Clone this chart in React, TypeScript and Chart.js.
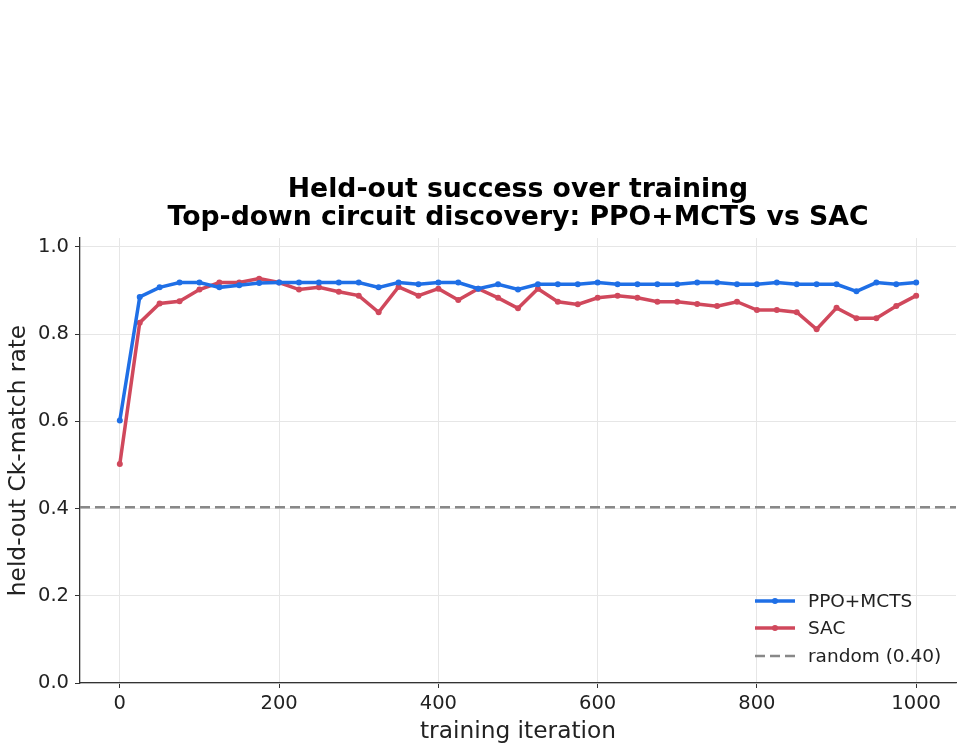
import React, { useEffect, useRef } from 'react';
import { Chart, registerables } from 'chart.js';

Chart.register(...registerables);

const iterations = [
  0, 25, 50, 75, 100, 125, 150, 175, 200, 225, 250, 275, 300, 325, 350, 375, 400, 425, 450, 475,
  500, 525, 550, 575, 600, 625, 650, 675, 700, 725, 750, 775, 800, 825, 850, 875, 900, 925, 950, 975, 1000,
];
const ppoMcts = [
  0.602, 0.885, 0.907, 0.918, 0.918, 0.907, 0.912, 0.917, 0.918, 0.918, 0.918, 0.918, 0.918, 0.907, 0.918, 0.914,
  0.918, 0.918, 0.904, 0.914, 0.902, 0.914, 0.914, 0.914, 0.918, 0.914, 0.914, 0.914, 0.914, 0.918, 0.918, 0.914,
  0.914, 0.918, 0.914, 0.914, 0.914, 0.898, 0.918, 0.914, 0.918,
];
const sac = [
  0.502, 0.826, 0.87, 0.875, 0.902, 0.918, 0.918, 0.927, 0.918, 0.902, 0.907, 0.897, 0.888, 0.85, 0.908, 0.888,
  0.904, 0.878, 0.904, 0.883, 0.859, 0.904, 0.874, 0.868, 0.883, 0.888, 0.883, 0.874, 0.874, 0.869, 0.864, 0.874,
  0.855, 0.855, 0.85, 0.811, 0.86, 0.836, 0.836, 0.864, 0.888,
];
const randomBaseline = 0.403;
const xRange = [-50, 1050];
const xTicks = [0, 200, 400, 600, 800, 1000];
const yTicks = [0, 0.2, 0.4, 0.6, 0.8, 1.0];
const titleLines = ['Held-out success over training', 'Top-down circuit discovery: PPO+MCTS vs SAC'];
const seriesLabels = ['PPO+MCTS', 'SAC', 'random (0.40)'];

const FONT = "'DejaVu Sans', 'Liberation Sans', sans-serif";
const BLUE = '#1f6fe6';
const RED = '#d0485c';
const GRAY = '#888888';

const legendPlugin = {
  id: 'insideLegend',
  afterDraw(chart: any) {
    const { ctx, chartArea } = chart;
    const x0 = chartArea.right - 201;
    const lineLen = 40;
    const rows = [chartArea.bottom - 82, chartArea.bottom - 55, chartArea.bottom - 27];
    ctx.save();
    chart.data.datasets.forEach((ds: any, i: number) => {
      const y = rows[i];
      ctx.beginPath();
      ctx.strokeStyle = ds.borderColor;
      ctx.lineWidth = ds.borderWidth;
      ctx.setLineDash(ds.borderDash || []);
      ctx.moveTo(x0, y);
      ctx.lineTo(x0 + lineLen, y);
      ctx.stroke();
      ctx.setLineDash([]);
      if (ds.pointRadius > 0) {
        ctx.beginPath();
        ctx.fillStyle = ds.borderColor;
        ctx.arc(x0 + lineLen / 2, y, ds.pointRadius, 0, Math.PI * 2);
        ctx.fill();
      }
      ctx.fillStyle = '#222';
      ctx.font = `18.5px ${FONT}`;
      ctx.textBaseline = 'middle';
      ctx.textAlign = 'left';
      ctx.fillText(ds.label, x0 + 53, y + 1);
    });
    ctx.restore();
  },
};

export default function App() {
  const ref = useRef<HTMLCanvasElement>(null);
  useEffect(() => {
    const ppoData = iterations.map((x, i) => ({ x, y: ppoMcts[i] }));
    const sacData = iterations.map((x, i) => ({ x, y: sac[i] }));
    const randData = xRange.map((x) => ({ x, y: randomBaseline }));
    const chart = new Chart(ref.current as HTMLCanvasElement, {
      type: 'line',
      data: {
        datasets: [
          {
            label: seriesLabels[0],
            data: ppoData,
            borderColor: BLUE,
            backgroundColor: BLUE,
            pointBackgroundColor: BLUE,
            borderWidth: 3.5,
            pointRadius: 3,
            pointBorderWidth: 0,
            tension: 0,
          },
          {
            label: seriesLabels[1],
            data: sacData,
            borderColor: RED,
            backgroundColor: RED,
            pointBackgroundColor: RED,
            borderWidth: 3.5,
            pointRadius: 3,
            pointBorderWidth: 0,
            tension: 0,
          },
          {
            label: seriesLabels[2],
            data: randData,
            borderColor: GRAY,
            backgroundColor: GRAY,
            borderWidth: 2.5,
            borderDash: [10, 5],
            pointRadius: 0,
            tension: 0,
          },
        ],
      },
      options: {
        responsive: false,
        animation: false,
        layout: { padding: { left: 0, right: 8, top: 0, bottom: 0 } },
        plugins: {
          legend: { display: false },
          tooltip: { enabled: false },
          title: {
            display: true,
            fullSize: false,
            text: titleLines,
            color: '#000',
            font: { family: FONT, size: 26.7, weight: 'bold', lineHeight: 1.05 },
            padding: { top: 176, bottom: 6 },
          },
        },
        scales: {
          x: {
            type: 'linear',
            min: xRange[0],
            max: xRange[1],
            afterBuildTicks: (scale: any) => {
              scale.ticks = xTicks.map((v) => ({ value: v }));
            },
            afterFit: (scale: any) => {
              scale.height = 67;
            },
            ticks: {
              color: '#222',
              font: { family: FONT, size: 19.5 },
              padding: 4,
              maxRotation: 0,
              callback: (v: any) => String(v),
            },
            grid: { color: '#e6e6e6', lineWidth: 1, tickColor: '#333', tickLength: 5 },
            border: { display: true, color: '#333', width: 1.3 },
            title: {
              display: true,
              text: 'training iteration',
              color: '#222',
              font: { family: FONT, size: 23.3 },
              padding: { top: 0, bottom: 4 },
            },
          },
          y: {
            type: 'linear',
            min: 0,
            max: 1.02,
            afterBuildTicks: (scale: any) => {
              scale.ticks = yTicks.map((v) => ({ value: v }));
            },
            afterFit: (scale: any) => {
              scale.width = 80;
            },
            ticks: {
              color: '#222',
              font: { family: FONT, size: 19.5 },
              padding: 6,
              callback: (v: any) => Number(v).toFixed(1),
            },
            grid: { color: '#e6e6e6', lineWidth: 1, tickColor: '#333', tickLength: 5 },
            border: { display: true, color: '#333', width: 1.3 },
            title: {
              display: true,
              text: 'held-out Ck-match rate',
              color: '#222',
              font: { family: FONT, size: 23.3 },
              padding: { top: 5, bottom: 0 },
            },
          },
        },
      },
      plugins: [legendPlugin],
    } as any);
    return () => chart.destroy();
  }, []);
  return (
    <div style={{ position: 'absolute', left: 0, top: 0, width: 964, height: 750, background: '#fff' }}>
      <canvas ref={ref} width={964} height={750} style={{ display: 'block' }} />
    </div>
  );
}
